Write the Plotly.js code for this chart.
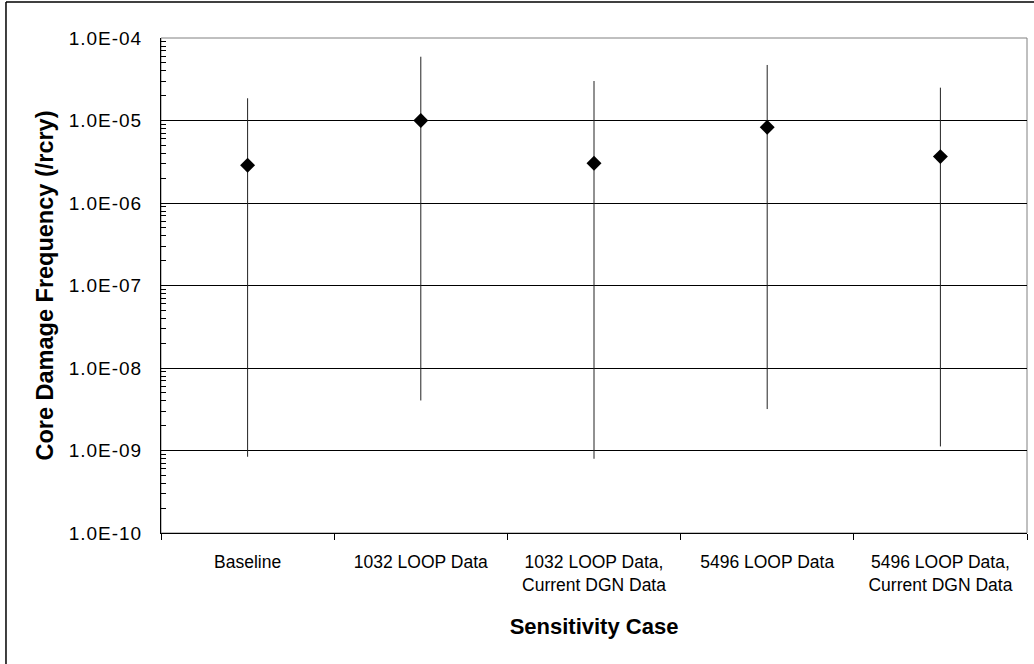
<!DOCTYPE html>
<html>
<head>
<meta charset="utf-8">
<script src="https://cdn.plot.ly/plotly-3.0.1.min.js"></script>
<style>
  html, body { margin: 0; padding: 0; background: #fff; }
  #chart { width: 1034px; height: 664px; }
  #chart .ytick text { letter-spacing: 1px; }
</style>
</head>
<body>
<div id="chart"></div>
<script>
// Sensitivity cases and their core damage frequency estimates (per reactor critical year)
const cases = [
  "Baseline",
  "1032 LOOP Data",
  "1032 LOOP Data,<br>Current DGN Data",
  "5496 LOOP Data",
  "5496 LOOP Data,<br>Current DGN Data"
];
const meanCdf  = [2.87e-6, 1.0e-5, 3.03e-6, 8.28e-6, 3.65e-6];
const upperCdf = [1.86e-5, 5.93e-5, 3.01e-5, 4.71e-5, 2.50e-5];
const lowerCdf = [8.4e-10, 4.04e-9, 7.94e-10, 3.18e-9, 1.12e-9];

const yTickVals = [1e-10, 1e-9, 1e-8, 1e-7, 1e-6, 1e-5, 1e-4];
const yTickText = ["1.0E-10", "1.0E-09", "1.0E-08", "1.0E-07", "1.0E-06", "1.0E-05", "1.0E-04"];

const errPlus  = upperCdf.map((u, i) => u - meanCdf[i]);
const errMinus = meanCdf.map((m, i) => m - lowerCdf[i]);

const font = "Liberation Sans, Arial, sans-serif";

const trace = {
  type: "scatter",
  mode: "markers",
  x: cases,
  y: meanCdf,
  marker: { symbol: "diamond", size: 11.5, color: "#000" },
  error_y: {
    type: "data",
    symmetric: false,
    array: errPlus,
    arrayminus: errMinus,
    width: 0,
    thickness: 1,
    color: "#222"
  },
  hoverinfo: "x+y",
  showlegend: false
};

const layout = {
  width: 1034,
  height: 664,
  margin: { l: 161, r: 7, t: 38, b: 131 },
  paper_bgcolor: "#fff",
  plot_bgcolor: "#fff",
  font: { family: font, color: "#000" },
  xaxis: {
    type: "category",
    range: [-0.5, 4.5],
    tickson: "boundaries",
    ticks: "outside",
    ticklen: 6,
    tickcolor: "#000",
    showgrid: false,
    showline: true,
    linecolor: "#000",
    linewidth: 1,
    ticklabelstandoff: 13,
    tickfont: { size: 17.5, family: font, color: "#000" },
    title: { text: "<b>Sensitivity Case</b>", font: { size: 22, family: font, color: "#000" }, standoff: 24 },
    automargin: false
  },
  yaxis: {
    type: "log",
    range: [-10, -4],
    tickvals: yTickVals,
    ticktext: yTickText,
    ticks: "inside",
    ticklen: 6,
    tickcolor: "#000",
    showgrid: true,
    gridcolor: "#000",
    gridwidth: 1,
    showline: true,
    linecolor: "#000",
    linewidth: 1,
    zeroline: false,
    ticklabelstandoff: 14,
    minor: { ticks: "inside", ticklen: 5, tickcolor: "#000", dtick: "D1", showgrid: false },
    tickfont: { size: 19, family: font, color: "#000" },
    title: { text: "<b>Core Damage Frequency (/rcry)</b>", font: { size: 23.5, family: font, color: "#000" }, standoff: 15 },
    automargin: false
  },
  shapes: [
    // frame around the plotting area
    { type: "rect", xref: "paper", yref: "paper", x0: 0, x1: 1, y0: 0, y1: 1,
      line: { color: "#808080", width: 1 }, layer: "below" },
    // outer chart border (left and top edges)
    { type: "line", xref: "paper", yref: "paper", x0: -0.179, x1: -0.179, y0: -0.3, y1: 1.0727,
      line: { color: "#000", width: 1.5 } },
    { type: "line", xref: "paper", yref: "paper", x0: -0.179, x1: 1.2, y0: 1.0727, y1: 1.0727,
      line: { color: "#000", width: 1.5 } }
  ]
};

Plotly.newPlot("chart", [trace], layout, { displayModeBar: false, staticPlot: true });
</script>
</body>
</html>
